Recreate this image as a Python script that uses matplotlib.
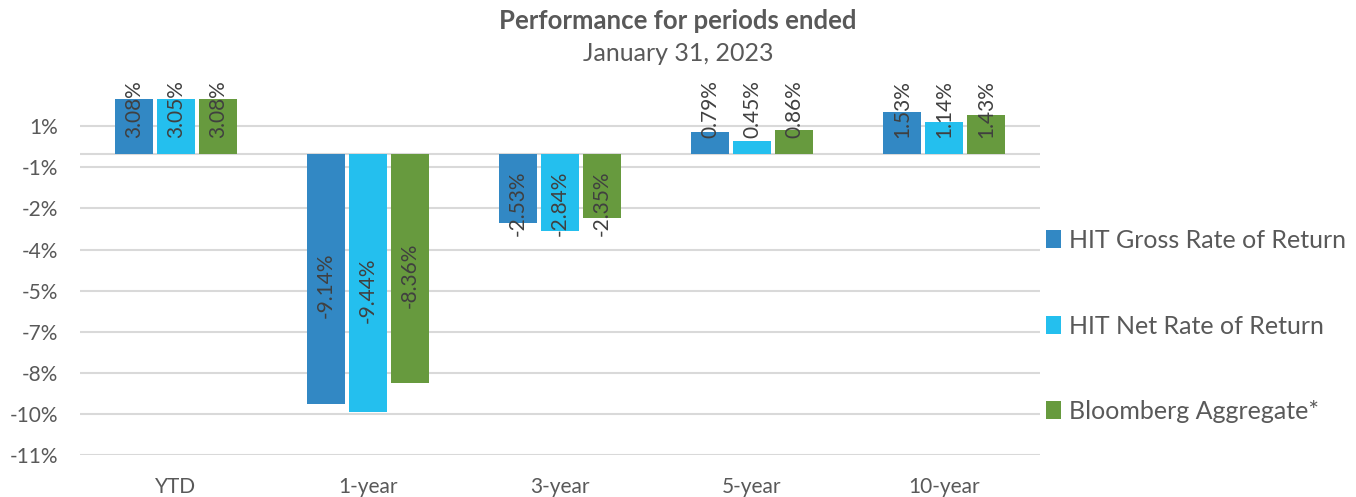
import math
import matplotlib.pyplot as plt
import numpy as np
from matplotlib.ticker import FuncFormatter
from matplotlib.patches import Patch

plt.rcParams.update({
    'font.family': ['Lato', 'DejaVu Sans'],
    'text.color': '#595959',
    'axes.labelcolor': '#595959',
    'xtick.color': '#595959',
    'ytick.color': '#595959',
})

periods = ['YTD', '1-year', '3-year', '5-year', '10-year']
gross = [3.08, -9.14, -2.53, 0.79, 1.53]
net = [3.05, -9.44, -2.84, 0.45, 1.14]
bloomberg = [3.08, -8.36, -2.35, 0.86, 1.43]
series_names = ['HIT Gross Rate of Return', 'HIT Net Rate of Return', 'Bloomberg Aggregate*']
colors = ['#3288C4', '#24BFEE', '#679A3E']

fig = plt.figure(figsize=(13.56, 4.97), dpi=100)
ax = fig.add_axes([0.059, 0.0845, 0.708, 0.7165])

x = np.arange(len(periods))
pitch = 0.219
width = 0.198
for i, (vals, c) in enumerate(zip([gross, net, bloomberg], colors)):
    xs = x + (i - 1) * pitch
    ax.bar(xs, vals, width=width, color=c, zorder=3)
    for xi, v in zip(xs, vals):
        if v > 0:
            ax.text(xi, 2.67, f'{v:.2f}%', rotation=90, ha='center', va='top',
                    fontsize=15, color='#404040', clip_on=False, zorder=4)
        else:
            ax.text(xi, min(v / 2 - 0.25, -1.8), f'{v:.2f}%', rotation=90,
                    ha='center', va='center', fontsize=15, color='#404040', zorder=4)

ax.set_xlim(-0.5, len(periods) - 0.5)
ax.set_ylim(-11, 2.0)
ax.set_yticks(np.arange(-11, 2, 1.5))


def pct(v, pos):
    r = math.copysign(math.floor(abs(v) + 0.5), v)
    return f'{int(r)}%'


ax.yaxis.set_major_formatter(FuncFormatter(pct))
ax.set_xticks(x)
ax.set_xticklabels(periods)
ax.tick_params(axis='both', length=0, labelsize=15)
ax.tick_params(axis='x', pad=16)
ax.tick_params(axis='y', pad=16)
ax.grid(True, axis='y', color='#D9D9D9', linewidth=1.5, zorder=0)
ax.axhline(0, color='#D9D9D9', linewidth=1.5, zorder=1)
for s in ax.spines.values():
    s.set_visible(False)

fig.text(0.5, 0.958, 'Performance for periods ended', ha='center', va='center',
         fontsize=18.5, fontweight='bold')
fig.text(0.5, 0.893, 'January 31, 2023', ha='center', va='center', fontsize=18)

handles = [Patch(facecolor=c) for c in colors]
fig.legend(handles, series_names, loc='center left', bbox_to_anchor=(0.755, 0.344),
           frameon=False, fontsize=18, handlelength=0.6, handleheight=0.75,
           handletextpad=0.3, labelspacing=2.5)

fig.savefig('out.png', dpi=100)
